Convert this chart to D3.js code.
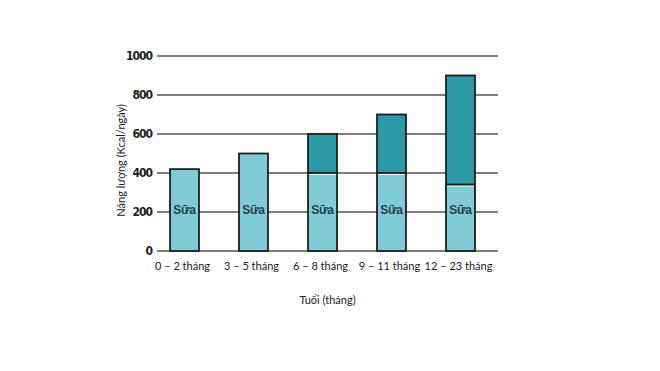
<!DOCTYPE html>
<html>
<head>
<meta charset="utf-8">
<script src="https://cdn.jsdelivr.net/npm/d3@7"></script>
<style>
  body { margin: 0; background: #fff; }
</style>
</head>
<body>
<div id="chart"></div>
<script>
// data
const ageGroups = ["0 – 2 tháng", "3 – 5 tháng", "6 – 8 tháng", "9 – 11 tháng", "12 – 23 tháng"];
const milkEnergy = [420, 500, 400, 400, 340];
const totalEnergy = [420, 500, 600, 700, 900];
const yTicks = [0, 200, 400, 600, 800, 1000];

const width = 660, height = 371;
const margin = {top: 56, right: 162, bottom: 120, left: 157};

const svg = d3.select("#chart")
  .append("svg")
    .attr("width", width)
    .attr("height", height);

const x = d3.scaleBand()
  .domain(ageGroups)
  .range([150, 495])
  .paddingInner(0.58)
  .paddingOuter(0.29);

const y = d3.scaleLinear()
  .domain([0, 1000])
  .range([height - margin.bottom, margin.top]);

// grid lines
svg.append("g")
  .selectAll("line")
  .data(yTicks)
  .join("line")
    .attr("x1", margin.left)
    .attr("x2", width - margin.right)
    .attr("y1", d => y(d))
    .attr("y2", d => y(d))
    .attr("stroke", "#555")
    .attr("stroke-width", 1.5);

// y tick labels
svg.append("g")
  .selectAll("text")
  .data(yTicks)
  .join("text")
    .attr("x", margin.left - 5)
    .attr("y", d => y(d))
    .attr("dy", "0.36em")
    .attr("text-anchor", "end")
    .attr("font-family", "DejaVu Sans Condensed, DejaVu Sans")
    .attr("font-weight", "bold")
    .attr("font-size", 12)
    .attr("letter-spacing", -1)
    .attr("fill", "#222")
    .text(d => d);

const bars = svg.append("g");

// upper (complementary food) part
bars.selectAll("rect.total")
  .data(ageGroups)
  .join("rect")
    .attr("class", "total")
    .attr("x", d => x(d))
    .attr("width", x.bandwidth())
    .attr("y", (d, i) => y(totalEnergy[i]))
    .attr("height", (d, i) => y(milkEnergy[i]) - y(totalEnergy[i]))
    .attr("fill", "#2a9aa6")
    .attr("stroke", "#1e1e1e")
    .attr("stroke-width", 1.8);

// milk part
bars.selectAll("rect.milk")
  .data(ageGroups)
  .join("rect")
    .attr("class", "milk")
    .attr("x", d => x(d))
    .attr("width", x.bandwidth())
    .attr("y", (d, i) => y(milkEnergy[i]))
    .attr("height", (d, i) => y(0) - y(milkEnergy[i]))
    .attr("fill", "#80ccd6")
    .attr("stroke", "#1e1e1e")
    .attr("stroke-width", 1.8);

// inner white line between parts
bars.selectAll("line.sep")
  .data(ageGroups.filter((d, i) => totalEnergy[i] > milkEnergy[i]))
  .join("line")
    .attr("class", "sep")
    .attr("x1", d => x(d) + 1)
    .attr("x2", d => x(d) + x.bandwidth() - 1)
    .attr("y1", d => y(milkEnergy[ageGroups.indexOf(d)]) + 1.5)
    .attr("y2", d => y(milkEnergy[ageGroups.indexOf(d)]) + 1.5)
    .attr("stroke", "#e8f6f8")
    .attr("stroke-width", 1);

bars.selectAll("text.milkLabel")
  .data(ageGroups)
  .join("text")
    .attr("class", "milkLabel")
    .attr("x", d => x(d) + x.bandwidth() / 2)
    .attr("y", y(210))
    .attr("dy", "0.36em")
    .attr("text-anchor", "middle")
    .attr("font-family", "Liberation Sans, Arial")
    .attr("font-weight", "bold")
    .attr("font-size", 12)
    .attr("letter-spacing", -0.3)
    .attr("fill", "#23404a")
    .text("Sữa");

// x labels
svg.append("g")
  .selectAll("text")
  .data(ageGroups)
  .join("text")
    .attr("x", d => x(d) + x.bandwidth() / 2 - 2)
    .attr("y", y(0) + 19)
    .attr("text-anchor", "middle")
    .attr("font-family", "Lato, Open Sans")
    .attr("font-size", 11)
    .attr("fill", "#222")
    .text(d => d);

// axis titles
svg.append("text")
  .attr("x", (margin.left + width - margin.right) / 2)
  .attr("y", 304)
  .attr("text-anchor", "middle")
  .attr("font-family", "Lato, Open Sans")
  .attr("font-size", 11)
  .attr("fill", "#222")
  .text("Tuổi (tháng)");

svg.append("text")
  .attr("transform", `translate(125, ${y(465)}) rotate(-90)`)
  .attr("text-anchor", "middle")
  .attr("font-family", "Lato, Open Sans")
  .attr("font-size", 11)
  .attr("fill", "#222")
  .text("Năng lượng (Kcal/ngày)");
</script>
</body>
</html>
